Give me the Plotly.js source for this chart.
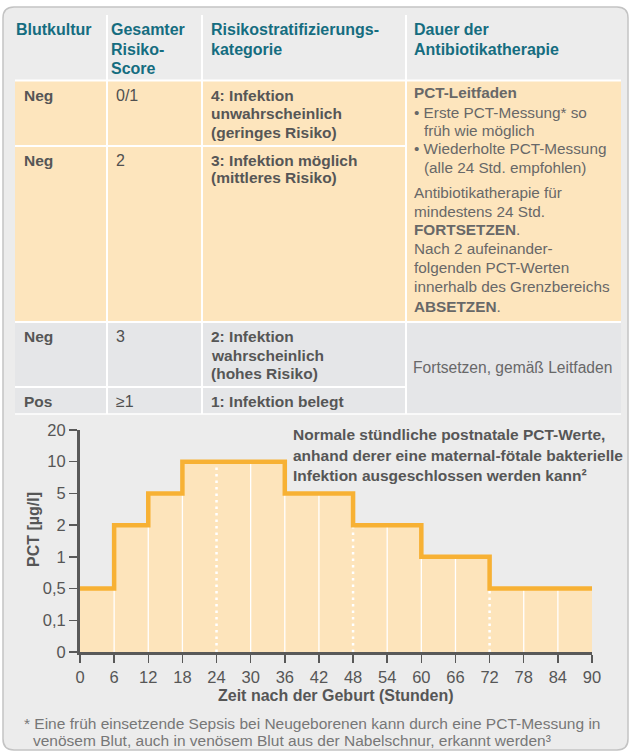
<!DOCTYPE html>
<html>
<head>
<meta charset="utf-8">
<script src="https://cdn.plot.ly/plotly-3.0.1.min.js"></script>
<style>
  html, body { margin: 0; padding: 0; background: #ffffff; }
  #chart { width: 631px; height: 754px; }
</style>
</head>
<body>
<div id="chart"></div>
<script>
// ---------- DATA ----------
const tableHeaders = [
  ['Blutkultur'],
  ['Gesamter', 'Risiko-', 'Score'],
  ['Risikostratifizierungs-', 'kategorie'],
  ['Dauer der', 'Antibiotikatherapie']
];
const bloodCulture = ['Neg', 'Neg', 'Neg', 'Pos'];
const riskScore = ['0/1', '2', '3', '≥1'];
const riskCategory = [
  ['4: Infektion', 'unwahrscheinlich', '(geringes Risiko)'],
  ['3: Infektion möglich', '(mittleres Risiko)'],
  ['2: Infektion', 'wahrscheinlich', '(hohes Risiko)'],
  ['1: Infektion belegt']
];
const therapyLowRisk = [
  '<b>PCT-Leitfaden</b>',
  '• Erste PCT-Messung* so',
  '  früh wie möglich',
  '• Wiederholte PCT-Messung',
  '  (alle 24 Std. empfohlen)',
  'Antibiotikatherapie für',
  'mindestens 24 Std.',
  '<b>FORTSETZEN</b>.',
  'Nach 2 aufeinander-',
  'folgenden PCT-Werten',
  'innerhalb des Grenzbereichs',
  '<b>ABSETZEN</b>.'
];
const therapyHighRisk = ['Fortsetzen, gemäß Leitfaden'];

const hours = [0, 6, 12, 18, 24, 30, 36, 42, 48, 54, 60, 66, 72, 78, 84, 90];
const pctPerBlock = [0.5, 2, 5, 10, 10, 10, 5, 5, 2, 2, 1, 1, 0.5, 0.5, 0.5];
const dottedHours = [24, 48, 72];
const pctLevels = [0, 0.1, 0.5, 1, 2, 5, 10, 20];
const pctLabels = ['0', '0,1', '0,5', '1', '2', '5', '10', '20'];

const chartNote = ['Normale stündliche postnatale PCT-Werte,',
                   'anhand derer eine maternal-fötale bakterielle',
                   'Infektion ausgeschlossen werden kann²'];
const xTitle = 'Zeit nach der Geburt (Stunden)';
const yTitle = 'PCT [µg/l]';
const footnote = ['* Eine früh einsetzende Sepsis bei Neugeborenen kann durch eine PCT-Messung in',
                  '  venösem Blut, auch in venösem Blut aus der Nabelschnur, erkannt werden³'];

// ---------- LAYOUT HELPERS ----------
const W = 631, H = 754;
const px = v => v / W;
const py = v => 1 - v / H;
const FONT = 'Liberation Sans, Arial, Helvetica, sans-serif';
const TEAL = '#156d80';
const DARK = '#565656';
const LIGHT = '#686868';
const ORANGE_BG = '#fde5bd';
const ROW_GREY = '#e5e6e8';
const FRAME_BG = '#ececec';

const shapes = [];
const annotations = [];

function rect(x0, y0, x1, y1, fill) {
  shapes.push({type: 'rect', xref: 'paper', yref: 'paper', layer: 'below',
    x0: px(x0), x1: px(x1), y0: py(y1), y1: py(y0),
    fillcolor: fill, line: {width: 0}});
}
function hline(x0, x1, y, color, w) {
  shapes.push({type: 'line', xref: 'paper', yref: 'paper', layer: 'below',
    x0: px(x0), x1: px(x1), y0: py(y), y1: py(y), line: {color: color, width: w}});
}
function vline(x, y0, y1, color, w) {
  shapes.push({type: 'line', xref: 'paper', yref: 'paper', layer: 'below',
    x0: px(x), x1: px(x), y0: py(y0), y1: py(y1), line: {color: color, width: w}});
}
function lines(arr, x, yFirst, spacing, font, indent) {
  arr.forEach((t, i) => {
    let xx = x, txt = t;
    if (/^  /.test(t)) { xx = x + (indent || 9); txt = t.trim(); }
    annotations.push({xref: 'paper', yref: 'paper', x: px(xx), y: py(yFirst + i * spacing),
      xanchor: 'left', yanchor: 'middle', align: 'left', showarrow: false,
      text: txt, font: font});
  });
}

// frame with rounded corners
(function () {
  const x0 = 3, x1 = 628, y0 = 7, y1 = 750, r = 11;
  const P = (x, y) => px(x) + ',' + py(y);
  const path = 'M' + P(x0 + r, y0) + ' L' + P(x1 - r, y0) + ' Q' + P(x1, y0) + ' ' + P(x1, y0 + r) +
    ' L' + P(x1, y1 - r) + ' Q' + P(x1, y1) + ' ' + P(x1 - r, y1) +
    ' L' + P(x0 + r, y1) + ' Q' + P(x0, y1) + ' ' + P(x0, y1 - r) +
    ' L' + P(x0, y0 + r) + ' Q' + P(x0, y0) + ' ' + P(x0 + r, y0) + ' Z';
  shapes.push({type: 'path', xref: 'paper', yref: 'paper', layer: 'below', path: path,
    fillcolor: FRAME_BG, line: {color: '#c3c3c3', width: 1.5}});
})();

// table geometry
const colX = [15, 107, 202, 406, 621];
const headTop = 15;
const rowY = [81, 146, 322, 387, 414];

// backgrounds
rect(colX[0], rowY[0], colX[4], rowY[2], ORANGE_BG);
rect(colX[0], rowY[2], colX[4], rowY[4], ROW_GREY);
// white separators
hline(colX[0], colX[4], rowY[0] - 0.5, '#ffffff', 2);
hline(colX[0], colX[3], rowY[1], '#ffffff', 2);
hline(colX[0], colX[4], rowY[2], '#ffffff', 2);
hline(colX[0], colX[3], rowY[3], '#ffffff', 2);
hline(colX[0], colX[4], rowY[4], '#ffffff', 1.5);
[1, 2, 3].forEach(i => vline(colX[i], headTop, rowY[4], '#ffffff', 2));

// header text
const headFont = {family: FONT, size: 16, color: TEAL};
const headX = [14, 109, 209, 412];
tableHeaders.forEach((h, i) => lines(h.map(t => '<b>' + t + '</b>'), headX[i], 29.5, 19.5, headFont));

// body text
const bodyFont = {family: FONT, size: 15.5, color: DARK};
const bodyX = [22, 114, 209];
const rowFirstY = [96, 160, 337, 401];
bloodCulture.forEach((t, i) => lines(['<b>' + t + '</b>'], bodyX[0], rowFirstY[i], 18, bodyFont));
riskScore.forEach((t, i) => lines([t], bodyX[1], rowFirstY[i], 18, {family: FONT, size: 16, color: '#505050'}));
riskCategory.forEach((arr, i) => lines(arr.map(t => '<b>' + t + '</b>'), bodyX[2], rowFirstY[i], 18, bodyFont));

const thFont = {family: FONT, size: 15.3, color: LIGHT};
const thY = [93, 112, 130.5, 149, 167.5, 192.5, 211, 229.5, 248.5, 267.5, 286.5, 306];
therapyLowRisk.forEach((t, i) => lines([t], 412, thY[i], 0, thFont, 10));
lines(therapyHighRisk, 411, 368, 18, {family: FONT, size: 15.6, color: LIGHT});

// chart note
lines(chartNote.map(t => '<b>' + t + '</b>'), 291, 435, 20, {family: FONT, size: 15.5, color: DARK});
// axis titles
annotations.push({xref: 'paper', yref: 'paper', x: px(336), y: py(695), xanchor: 'center', yanchor: 'middle',
  showarrow: false, text: '<b>' + xTitle + '</b>', font: {family: FONT, size: 16, color: DARK}});
annotations.push({xref: 'paper', yref: 'paper', x: px(33), y: py(530), xanchor: 'center', yanchor: 'middle',
  showarrow: false, textangle: -90, text: '<b>' + yTitle + '</b>', font: {family: FONT, size: 16, color: DARK}});
// footnote
lines(footnote, 22, 723, 17, {family: FONT, size: 15.5, color: '#777777'}, 9);

// ---------- TRACES ----------
const stepY = pctPerBlock.concat([pctPerBlock[pctPerBlock.length - 1]]);

const fillTrace = {
  type: 'scatter', mode: 'lines', x: hours, y: stepY,
  line: {shape: 'hv', width: 0, color: 'rgba(0,0,0,0)'},
  fill: 'tozeroy', fillcolor: '#fde4bb', hoverinfo: 'skip', showlegend: false
};

const gx = [], gy = [], dx = [], dy = [];
for (let i = 1; i < hours.length - 1; i++) {
  const top = Math.max(pctPerBlock[i - 1], pctPerBlock[i]);
  if (dottedHours.includes(hours[i])) {
    dx.push(hours[i], hours[i], null); dy.push(pctLevels[0], top, null);
  } else {
    gx.push(hours[i], hours[i], null); gy.push(pctLevels[0], top, null);
  }
}
const gridTrace = {type: 'scatter', mode: 'lines', x: gx, y: gy, connectgaps: false,
  line: {color: '#ffffff', width: 1.3}, hoverinfo: 'skip', showlegend: false};
const dotTrace = {type: 'scatter', mode: 'lines', x: dx, y: dy, connectgaps: false,
  line: {color: '#ffffff', width: 2.5, dash: '2.5px,4px'}, hoverinfo: 'skip', showlegend: false};
const lineTrace = {type: 'scatter', mode: 'lines', x: hours, y: stepY,
  line: {shape: 'hv', width: 4.5, color: '#f7b134'}, hoverinfo: 'skip', showlegend: false};

const layout = {
  width: W, height: H,
  margin: {l: 0, r: 0, t: 0, b: 0},
  paper_bgcolor: '#ffffff', plot_bgcolor: 'rgba(0,0,0,0)',
  font: {family: FONT, color: DARK},
  showlegend: false,
  xaxis: {
    domain: [px(80), px(592)], range: [0, 90], type: 'linear',
    tickmode: 'array', tickvals: hours, ticktext: hours.map(String),
    ticks: 'outside', ticklen: 8, tickwidth: 1.5, tickcolor: '#595959',
    showline: true, linewidth: 3, linecolor: '#595959',
    showgrid: false, zeroline: false,
    tickfont: {family: FONT, size: 16.5, color: DARK}
  },
  yaxis: {
    domain: [py(652), py(430)], type: 'category',
    categoryorder: 'array', categoryarray: pctLevels,
    range: [0, 7],
    tickmode: 'array', tickvals: pctLevels, ticktext: pctLabels,
    ticks: 'outside', ticklen: 8, tickwidth: 1.5, tickcolor: '#595959',
    showline: true, linewidth: 3, linecolor: '#595959',
    showgrid: false, zeroline: false,
    tickfont: {family: FONT, size: 16.5, color: DARK}
  },
  shapes: shapes,
  annotations: annotations
};

Plotly.newPlot('chart', [fillTrace, gridTrace, dotTrace, lineTrace], layout,
  {displayModeBar: false, staticPlot: true});
</script>
</body>
</html>
